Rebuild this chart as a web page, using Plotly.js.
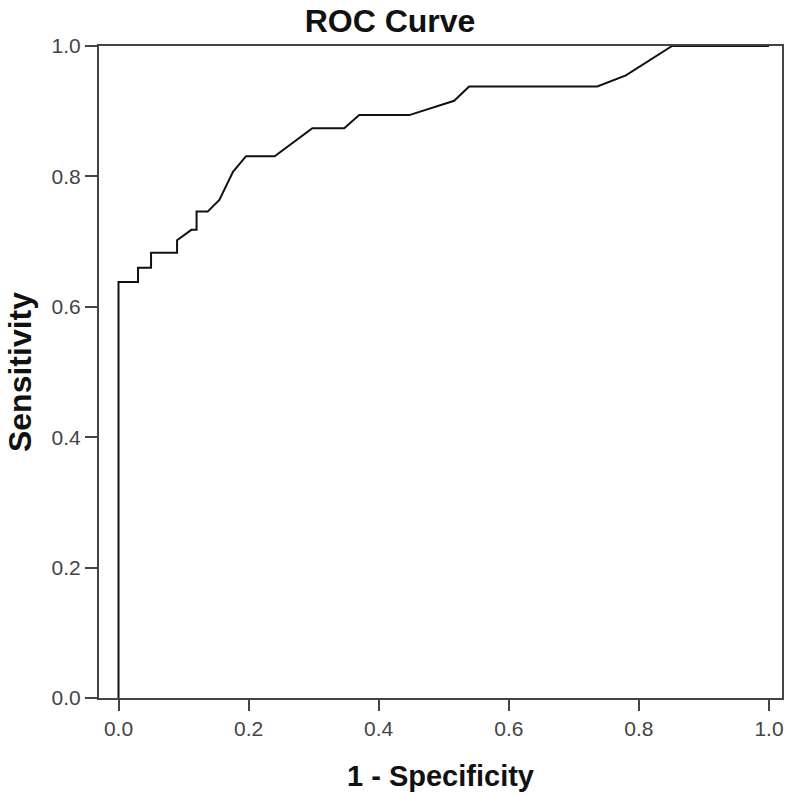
<!DOCTYPE html>
<html>
<head>
<meta charset="utf-8">
<script src="https://cdn.plot.ly/plotly-3.0.1.min.js"></script>
<style>
  body { margin: 0; background: #fff; }
  #roc { width: 800px; height: 797px; }
</style>
</head>
<body>
<div id="roc"></div>
<script>
// ROC curve points
const fpr = [0.0, 0.0, 0.030, 0.030, 0.050, 0.050, 0.090, 0.090, 0.112, 0.120, 0.120, 0.137,
  0.155, 0.176, 0.196, 0.240, 0.298, 0.347, 0.370, 0.447, 0.516, 0.539, 0.736, 0.780, 0.851, 1.0];
const tpr = [0.0, 0.638, 0.638, 0.660, 0.660, 0.683, 0.683, 0.702, 0.718, 0.718, 0.746, 0.746,
  0.764, 0.807, 0.831, 0.831, 0.874, 0.874, 0.894, 0.894, 0.916, 0.938, 0.938, 0.955, 1.0, 1.0];
const tickVals = [0, 0.2, 0.4, 0.6, 0.8, 1.0];
const tickText = ['0.0', '0.2', '0.4', '0.6', '0.8', '1.0'];

const curve = {
    x: fpr,
    y: tpr,
    type: 'scatter',
    mode: 'lines',
    line: { color: '#111', width: 2 },
    hoverinfo: 'x+y'
};

const axisStyle = {
    showline: true,
    mirror: true,
    linecolor: '#444',
    linewidth: 2,
    showgrid: false,
    zeroline: false,
    ticks: 'outside',
    ticklen: 11,
    tickwidth: 2,
    tickcolor: '#444',
    tickvals: tickVals,
    ticktext: tickText,
    tickfont: { family: 'Liberation Sans Narrow, Arial, sans-serif', size: 21, color: '#444' }
};

const layout = {
    title: {
        text: '<b>ROC Curve</b>',
        x: 0.4875,
        xanchor: 'center',
        xref: 'container',
        y: 0.9736,
        yanchor: 'middle',
        yref: 'container',
        font: { family: 'Liberation Sans, Arial, sans-serif', size: 32, color: '#111' }
    },
    xaxis: Object.assign({}, axisStyle, {
        range: [-0.03, 1.02],
        title: { text: '<b>1 - Specificity</b>', standoff: 26,
                 font: { family: 'Liberation Sans Narrow, Arial, sans-serif', size: 29, color: '#111' } }
    }),
    yaxis: Object.assign({}, axisStyle, {
        range: [0, 1],
        ticklen: 12,
        title: { text: '<b>Sensitivity</b>', standoff: 10,
                 font: { family: 'Liberation Sans Narrow, Arial, sans-serif', size: 32, color: '#111' } }
    }),
    margin: { l: 99, r: 18, t: 46, b: 99 },
    width: 800,
    height: 797,
    showlegend: false,
    plot_bgcolor: '#fff',
    paper_bgcolor: '#fff'
};

Plotly.newPlot('roc', [curve], layout, { displayModeBar: false });
</script>
</body>
</html>
